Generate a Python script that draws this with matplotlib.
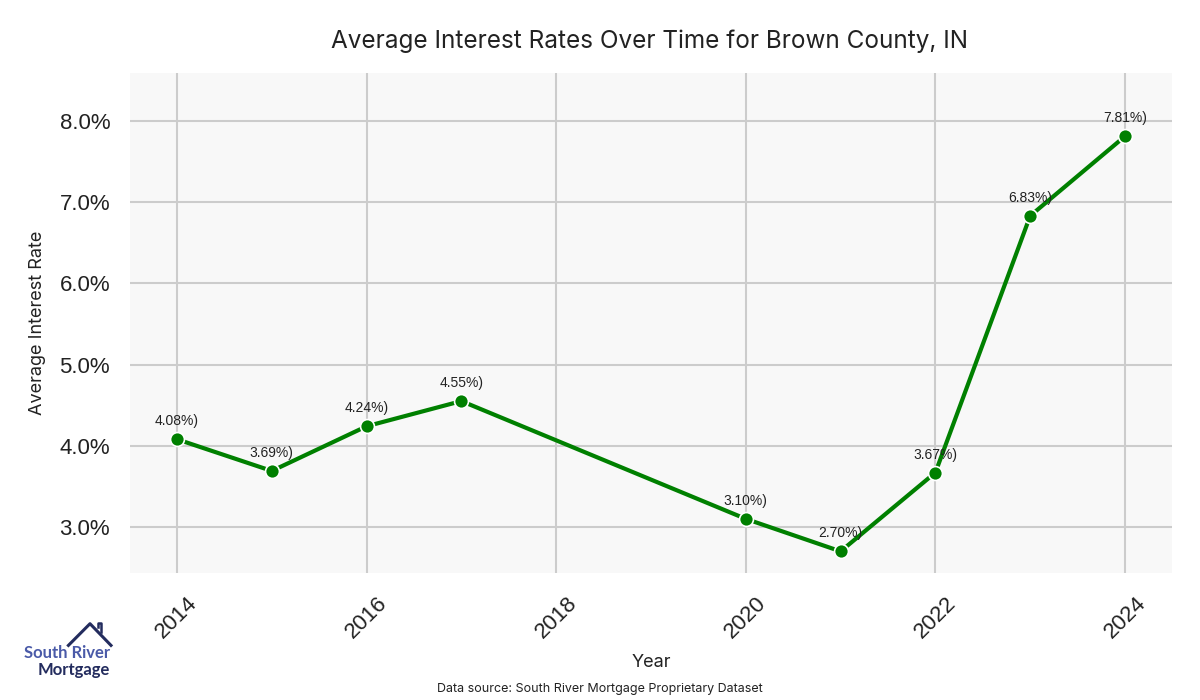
import matplotlib
matplotlib.use("Agg")
import matplotlib.pyplot as plt
import matplotlib.ticker as ticker

years = [2014, 2015, 2016, 2017, 2020, 2021, 2022, 2023, 2024]
rates = [4.08, 3.69, 4.24, 4.55, 3.10, 2.70, 3.67, 6.83, 7.81]
labels = [f"{r:.2f}%)" for r in rates]

TITLE = "Average Interest Rates Over Time for Brown County, IN"
SOURCE = "Data source: South River Mortgage Proprietary Dataset"

fig = plt.figure(figsize=(12, 7), dpi=100)
ax = fig.add_axes([0.108, 0.181, 0.869, 0.715])
ax.set_facecolor("#f8f8f8")

ax.plot(years, rates, color="#008000", linewidth=3, marker="o", markersize=10,
        markeredgecolor="white", markeredgewidth=1.2, zorder=3)
for x, y, t in zip(years, rates, labels):
    ax.annotate(t, (x, y), textcoords="offset points", xytext=(0, 10), ha="center",
                fontsize=10, color="#222222", family="Liberation Sans", zorder=4)

ax.set_xlim(2013.5, 2024.5)
ax.set_ylim(min(rates) * 0.9, max(rates) * 1.1)
ax.xaxis.set_major_locator(ticker.MultipleLocator(2))
ax.yaxis.set_major_locator(ticker.MultipleLocator(1))
ax.yaxis.set_major_formatter(ticker.FuncFormatter(lambda v, p: f"{v:.1f}%"))
ax.grid(True, color="#cccccc", linewidth=1.5)
ax.set_axisbelow(True)
for s in ax.spines.values():
    s.set_visible(False)
ax.tick_params(length=0, labelsize=16, labelcolor="#222222", pad=14)
plt.setp(ax.get_xticklabels(), rotation=45, ha="center", rotation_mode="default")
for lab in ax.get_xticklabels() + ax.get_yticklabels():
    lab.set_family("Liberation Sans")

ax.set_xlabel("Year", fontsize=13, family="Inter", color="#222222", labelpad=8)
ax.set_ylabel("Average Interest Rate", fontsize=13, family="Inter", color="#222222",
              labelpad=10)
fig.text(0.541, 0.941, TITLE, ha="center", va="center", fontsize=17.5, family="Inter",
         color="#222222")
fig.text(0.5, 0.016, SOURCE, ha="center", va="center", fontsize=9, family="Inter",
         color="#222222")

# logo
fig.text(0.092, 0.067, "South River", ha="right", va="center", fontsize=12,
         fontweight="bold", family="Lato", color="#4a5aa8")
fig.text(0.092, 0.043, "Mortgage", ha="right", va="center", fontsize=12,
         fontweight="bold", family="Lato", color="#232c5e")
fig.add_artist(plt.Line2D([0.057, 0.075, 0.0925], [0.078, 0.109, 0.078],
                          transform=fig.transFigure, color="#232c5e", linewidth=2.2))
fig.add_artist(plt.Line2D([0.0815, 0.0815, 0.0845, 0.0845], [0.104, 0.110, 0.110, 0.097],
                          transform=fig.transFigure, color="#232c5e", linewidth=1.8))

fig.savefig("out.png", dpi=100)
